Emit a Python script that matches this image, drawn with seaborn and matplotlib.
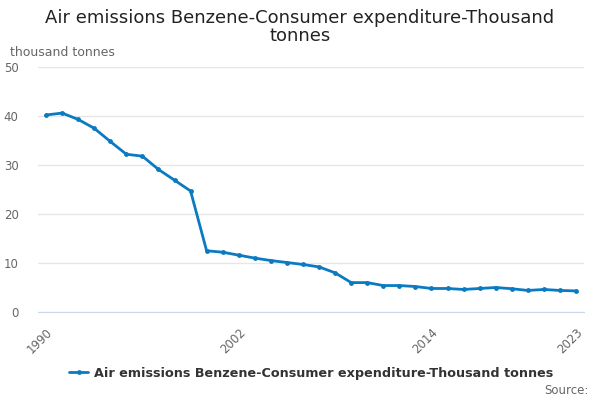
import numpy as np
import pandas as pd
import matplotlib
matplotlib.use("Agg")
import matplotlib.pyplot as plt
import seaborn as sns

years = list(range(1990, 2024))
benzene = [40.2, 40.6, 39.3, 37.5, 34.8, 32.2, 31.8, 29.1, 26.9, 24.7,
           12.5, 12.2, 11.6, 11.0, 10.5, 10.1, 9.7, 9.2, 8.0, 6.0,
           6.0, 5.4, 5.4, 5.2, 4.8, 4.8, 4.6, 4.8, 5.0, 4.75,
           4.4, 4.6, 4.4, 4.3]
series_name = "Air emissions Benzene-Consumer expenditure-Thousand tonnes"
tick_years = list(range(1990, 2024, 3))
label_years = [1990, 2002, 2014, 2023]

df = pd.DataFrame({"year": years, "value": benzene})

sns.set_style("white")
plt.rcParams["font.family"] = ["DejaVu Sans"]

fig = plt.figure(figsize=(6, 4), dpi=100)
ax = fig.add_axes([38 / 600, 0.22, 546 / 600, 0.6125])

line_col = "#0b7bc1"
sns.lineplot(data=df, x="year", y="value", ax=ax, color=line_col, linewidth=2,
             marker="o", markersize=3.5, markeredgewidth=0, label=series_name)

ax.set_xlim(1989.5, 2023.5)
ax.set_ylim(0, 50)
ax.set_yticks([0, 10, 20, 30, 40, 50])
ax.grid(axis="y", color="#e6e6e6", linewidth=1)
ax.set_axisbelow(True)
for s in ["top", "right", "left"]:
    ax.spines[s].set_visible(False)
ax.spines["bottom"].set_color("#ccd6eb")

ax.set_xticks(tick_years)
ax.set_xticklabels([str(y) if y in label_years else "" for y in tick_years],
                   rotation=45, ha="right", rotation_mode="anchor")
ax.tick_params(axis="x", length=8, color="#ccd6eb", labelsize=8.5, labelcolor="#666666", pad=2)
ax.tick_params(axis="y", length=0, labelsize=8.5, labelcolor="#666666", pad=14)
ax.set_xlabel("")
ax.set_ylabel("")

fig.text(0.5, 0.978, "Air emissions Benzene-Consumer expenditure-Thousand\ntonnes",
         ha="center", va="top", fontsize=13, color="#222222", linespacing=1.0)
fig.text(10 / 600, 1 - 52 / 400, "thousand tonnes", ha="left", va="center",
         fontsize=9, color="#666666")

leg = ax.legend(loc="center", bbox_to_anchor=(0.5, -0.25), frameon=False,
                prop={"weight": "bold", "size": 9.2}, handlelength=1.5,
                handletextpad=0.4)
for t in leg.get_texts():
    t.set_color("#333333")

fig.text(589 / 600, 1 - 390 / 400, "Source:", ha="right", va="center",
         fontsize=8.5, color="#666666")

fig.savefig("out.png", dpi=100)
